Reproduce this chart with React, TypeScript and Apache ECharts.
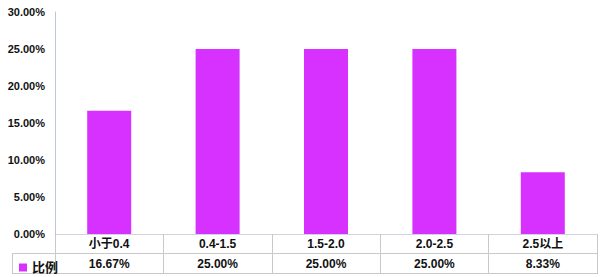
import React, { useEffect, useRef } from "react";
import * as echarts from "echarts";

const categories = ["小于0.4", "0.4-1.5", "1.5-2.0", "2.0-2.5", "2.5以上"];
const ratios = [0.1667, 0.25, 0.25, 0.25, 0.0833];
const seriesName = "比例";
const yTicks = { min: 0, max: 0.3, interval: 0.05 };

const BAR = "#d631fe";
const LINE = "#c9c9c9";
const FONT = "'Liberation Sans', Arial, 'Noto Sans CJK SC', sans-serif";

export default function App() {
  const ref = useRef<HTMLDivElement>(null);
  useEffect(() => {
    if (!ref.current) return;
    const chart = echarts.init(ref.current, undefined, { renderer: "svg" });
    chart.setOption({
      animation: false,
      backgroundColor: "#ffffff",
      textStyle: { fontFamily: FONT },
      grid: { left: 55, right: 3, top: 12, bottom: 43, containLabel: false },
      legend: {
        show: true,
        left: 14,
        top: 256,
        itemWidth: 8,
        itemHeight: 8,
        itemGap: 4,
        icon: "rect",
        textStyle: { fontFamily: FONT, fontWeight: "bold", fontSize: 13, color: "#111" },
        data: [seriesName],
      },
      xAxis: {
        type: "category",
        data: categories,
        axisLine: { show: true, lineStyle: { color: "#cfd4de", width: 1 } },
        axisTick: { show: true, length: 40, inside: false, lineStyle: { color: LINE } },
        axisLabel: {
          margin: 0,
          interval: 0,
          formatter: (v: string, i: number) =>
            `{a|${v}}\n{b|${(ratios[i] * 100).toFixed(2)}%}`,
          rich: {
            a: { fontFamily: FONT, fontWeight: "bold", fontSize: 12, color: "#111", lineHeight: 20, height: 20 },
            b: { fontFamily: FONT, fontWeight: "bold", fontSize: 12, color: "#111", lineHeight: 20, height: 20 },
          },
        },
        splitLine: { show: false },
      },
      yAxis: {
        type: "value",
        min: yTicks.min,
        max: yTicks.max,
        interval: yTicks.interval,
        axisLine: { show: true, lineStyle: { color: "#bcc6d8", width: 1 } },
        axisTick: { show: false },
        splitLine: { show: false },
        axisLabel: {
          margin: 10,
          fontFamily: FONT,
          fontWeight: "bold",
          fontSize: 11,
          color: "#111",
          formatter: (v: number) => (v * 100).toFixed(2) + "%",
        },
      },
      series: [
        {
          name: seriesName,
          type: "bar",
          data: ratios,
          barWidth: 44,
          itemStyle: { color: BAR },
        },
      ],
      graphic: [
        { type: "line", shape: { x1: 12, y1: 253.5, x2: 597, y2: 253.5 }, style: { stroke: LINE, lineWidth: 1 } },
        { type: "line", shape: { x1: 12, y1: 273.5, x2: 597, y2: 273.5 }, style: { stroke: LINE, lineWidth: 1 } },
        { type: "line", shape: { x1: 12.5, y1: 253, x2: 12.5, y2: 274 }, style: { stroke: LINE, lineWidth: 1 } },
      ],
    });
    return () => chart.dispose();
  }, []);
  return (
    <div
      ref={ref}
      style={{ position: "fixed", left: 0, top: 0, width: 600, height: 277, overflow: "hidden" }}
    />
  );
}
